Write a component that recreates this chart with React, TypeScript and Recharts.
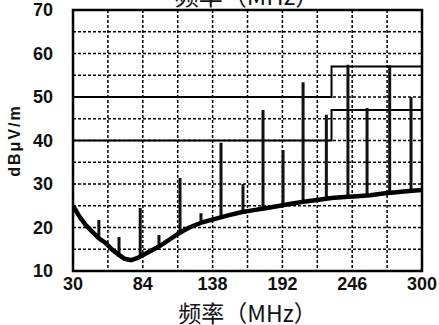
import { ComposedChart, Line, XAxis, YAxis, CartesianGrid, ReferenceArea } from 'recharts';

const xTicks = [30, 57, 84, 111, 138, 165, 192, 219, 246, 273, 300];
const yTicks = [10, 15, 20, 25, 30, 35, 40, 45, 50, 55, 60, 65, 70];

// measured noise floor (MHz, dBuV/m)
const floorFreq = [30, 35, 40, 45, 50, 55, 60, 65, 70, 75, 80, 85, 90, 95, 100, 105, 110, 115, 120, 130, 140, 150, 160, 170, 180, 190, 200, 210, 220, 230, 240, 250, 260, 270, 280, 290, 300];
const floorLevel = [25, 22.5, 20.5, 19, 17.5, 16.5, 15, 13.8, 12.8, 12.5, 13, 13.8, 14.6, 15.4, 16.3, 17.3, 18.3, 19.2, 20, 21.2, 22, 22.8, 23.5, 24, 24.5, 25, 25.5, 26, 26.4, 26.8, 27, 27.2, 27.4, 27.8, 28.1, 28.4, 28.6];

// emission peaks
const spikeFreq = [50, 65.6, 82, 96.5, 112.8, 129, 144.5, 161.5, 177, 192.5, 208, 226, 242.7, 257.5, 275, 291.5];
const spikeBase = [17.5, 13.8, 13.5, 15.8, 19, 21, 22.2, 23.5, 24.3, 25, 25.8, 26.6, 27, 27.3, 27.9, 28.4];
const spikeTop = [21.7, 17.8, 24.5, 18.3, 31.4, 23.3, 39.5, 30, 47, 37.8, 53.4, 45.9, 57.4, 47.5, 57.3, 50];

// limit lines
const limitFreq = [30, 230, 230, 300];
const limitLow = [40, 40, 47, 47];
const limitHigh = [50, 50, 57, 57];

const floorData = floorFreq.map((f, i) => ({ f, v: floorLevel[i] }));
const spikeData = spikeFreq.flatMap((f, i) => [
  { f, v: spikeBase[i] },
  { f, v: spikeTop[i] },
  { f, v: null },
]);
const lowData = limitFreq.map((f, i) => ({ f, v: limitLow[i] }));
const highData = limitFreq.map((f, i) => ({ f, v: limitHigh[i] }));

const tickStyle = { fontFamily: 'Liberation Sans, Arial, sans-serif', fontWeight: 700, fontSize: 18, fill: '#111' };

export default function App() {
  return (
    <div style={{ position: 'absolute', left: 0, top: 0, width: 439, height: 325, overflow: 'hidden', background: '#fff' }}>
      <div
        style={{
          position: 'absolute', left: 0, width: 494, top: -19, textAlign: 'center',
          fontFamily: 'Noto Sans CJK SC', fontSize: 24, color: '#111', lineHeight: '28px',
        }}
      >
        频率（MHz）
      </div>
      <ComposedChart width={439} height={325} margin={{ top: 10, right: 17, bottom: 0, left: 33 }}>
        <CartesianGrid stroke="#000" strokeDasharray="3 2" strokeWidth={1.5} />
        <XAxis
          type="number"
          dataKey="f"
          domain={[30, 300]}
          ticks={xTicks}
          allowDataOverflow
          axisLine={false}
          tickLine={false}
          tickSize={0}
          tickMargin={6}
          height={54}
          interval={0}
          tick={tickStyle}
          tickFormatter={(v: number) => (xTicks.indexOf(v) % 2 === 0 ? String(v) : '')}
          label={{ value: '频率（MHz）', position: 'insideBottom', offset: 3, fontFamily: 'Noto Sans CJK SC', fontSize: 23, fill: '#111' }}
        />
        <YAxis
          type="number"
          domain={[10, 70]}
          ticks={yTicks}
          allowDataOverflow
          axisLine={false}
          tickLine={false}
          tickSize={0}
          tickMargin={20}
          width={40}
          interval={0}
          tick={tickStyle}
          tickFormatter={(v: number) => (v % 10 === 0 ? String(v) : '')}
          label={{ value: 'dBμV/m', angle: -90, position: 'insideLeft', offset: -19, fontFamily: 'Liberation Sans, Arial, sans-serif', fontWeight: 700, fontSize: 16, letterSpacing: 2, fill: '#111', textAnchor: 'middle' }}
        />
        <ReferenceArea x1={30} x2={300} y1={10} y2={70} fill="none" stroke="#000" strokeWidth={2.5} />
        <Line data={lowData} dataKey="v" stroke="#000" strokeWidth={2} dot={false} isAnimationActive={false} />
        <Line data={highData} dataKey="v" stroke="#000" strokeWidth={2} dot={false} isAnimationActive={false} />
        <Line data={spikeData} dataKey="v" stroke="#111" strokeWidth={3} dot={false} isAnimationActive={false} />
        <Line data={floorData} dataKey="v" stroke="#000" strokeWidth={4.5} dot={false} isAnimationActive={false} />
      </ComposedChart>
    </div>
  );
}
